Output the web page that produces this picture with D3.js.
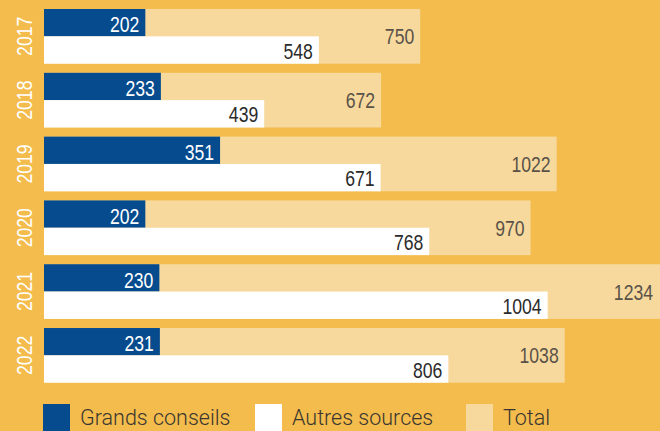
<!DOCTYPE html>
<html>
<head>
<meta charset="utf-8">
<script src="https://cdn.jsdelivr.net/npm/d3@7"></script>
<style>
  body { margin: 0; background: #F3BC4C; }
  svg { display: block; }
</style>
</head>
<body>
<script>
// data
var years = ["2017", "2018", "2019", "2020", "2021", "2022"];
var grandsConseils = [202, 233, 351, 202, 230, 231];
var autresSources = [548, 439, 671, 768, 1004, 806];
var totals = [750, 672, 1022, 970, 1234, 1038];
var legendLabels = ["Grands conseils", "Autres sources", "Total"];

window.onload = drawChart();

function drawChart(){
    var width = 660,
        height = 431;

    var colBlue = "#054B8E",
        colWhite = "#FFFFFF",
        colTotal = "#F7D99D",
        numFont = "'Liberation Sans', Arial, sans-serif",
        squeeze = 0.8; // condensed look for the numbers

    var svg = d3.select("body")
        .append("svg")
        .attr("width", width)
        .attr("height", height);

    svg.append("rect")
        .attr("width", width)
        .attr("height", height)
        .attr("fill", "#F3BC4C");

    var x = d3.scaleLinear()
        .domain([0, 1234])
        .range([44, 663]);

    var y = d3.scaleBand()
        .domain(years)
        .range([9, 382.7])
        .paddingInner(0.143)
        .paddingOuter(0);

    var bw = y.bandwidth();

    var rows = svg.selectAll(".row")
        .data(years)
        .enter()
        .append("g")
        .attr("class", "row");

    //total bar
    rows.append("rect")
        .attr("x", x(0))
        .attr("y", function(d){ return y(d); })
        .attr("width", function(d, i){ return x(totals[i]) - x(0); })
        .attr("height", bw)
        .attr("fill", colTotal);

    //grands conseils
    rows.append("rect")
        .attr("x", x(0))
        .attr("y", function(d){ return y(d); })
        .attr("width", function(d, i){ return x(grandsConseils[i]) - x(0); })
        .attr("height", bw / 2)
        .attr("fill", colBlue);

    //autres sources
    rows.append("rect")
        .attr("x", x(0))
        .attr("y", function(d){ return y(d) + bw / 2; })
        .attr("width", function(d, i){ return x(autresSources[i]) - x(0); })
        .attr("height", bw / 2)
        .attr("fill", colWhite);

    //value labels
    function addLabel(values, dx, dy, color){
        rows.append("text")
            .attr("transform", function(d, i){
                return "translate(" + (x(values[i]) - dx(values[i])) + "," + (y(d) + dy) + ") scale(" + squeeze + ",1)";
            })
            .attr("text-anchor", "end")
            .attr("font-family", numFont)
            .attr("font-size", 22)
            .attr("fill", color)
            .text(function(d, i){ return values[i]; });
    }

    addLabel(totals, function(v){ return v > 1200 ? 10 : 6; }, bw / 2 + 8, "#5A5249");
    addLabel(grandsConseils, function(){ return 6; }, bw / 2 - 4, "#FFFFFF");
    addLabel(autresSources, function(){ return 6; }, bw - 5, "#2B2B2B");

    //year labels, rotated
    rows.append("text")
        .attr("transform", function(d){
            return "translate(32," + (y(d) + bw / 2) + ") rotate(-90) scale(" + squeeze + ",1)";
        })
        .attr("text-anchor", "middle")
        .attr("font-family", numFont)
        .attr("font-size", 22)
        .attr("fill", "#FFFFFF")
        .text(function(d){ return d; });

    //legend
    var legendX = [43, 255, 466];
    var legendCol = [colBlue, colWhite, colTotal];
    var legend = svg.selectAll(".legend")
        .data(legendLabels)
        .enter()
        .append("g")
        .attr("class", "legend");

    legend.append("rect")
        .attr("x", function(d, i){ return legendX[i]; })
        .attr("y", 404)
        .attr("width", 27)
        .attr("height", 30)
        .attr("fill", function(d, i){ return legendCol[i]; });

    legend.append("text")
        .attr("x", function(d, i){ return legendX[i] + 37; })
        .attr("y", 425)
        .attr("font-family", "Roboto, sans-serif")
        .attr("font-weight", 300)
        .attr("font-size", 21.5)
        .attr("fill", "#3A3530")
        .text(function(d){ return d; });
};
</script>
</body>
</html>
